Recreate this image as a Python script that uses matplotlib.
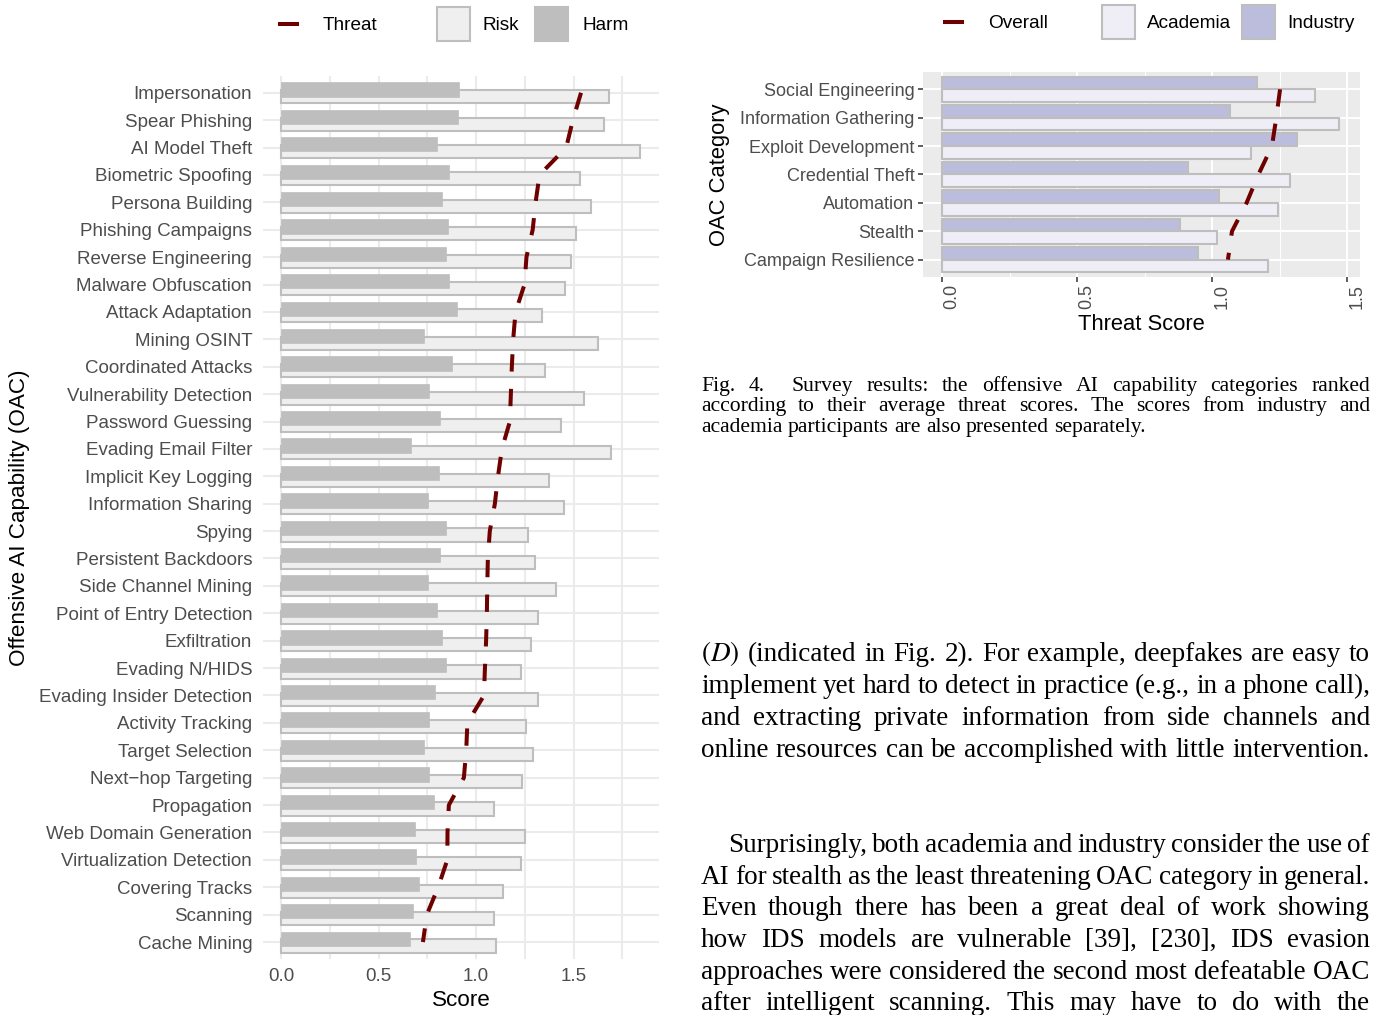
import matplotlib
matplotlib.use('Agg')
import matplotlib.pyplot as plt
from matplotlib.patches import Rectangle
from matplotlib.lines import Line2D
from matplotlib.transforms import ScaledTranslation
import numpy as np

plt.rcParams['font.family'] = 'Liberation Sans'
plt.rcParams['mathtext.fontset'] = 'stix'

# left chart: offensive AI capabilities
capabilities = ["Impersonation", "Spear Phishing", "AI Model Theft", "Biometric Spoofing",
                "Persona Building", "Phishing Campaigns", "Reverse Engineering",
                "Malware Obfuscation", "Attack Adaptation", "Mining OSINT",
                "Coordinated Attacks", "Vulnerability Detection", "Password Guessing",
                "Evading Email Filter", "Implicit Key Logging", "Information Sharing",
                "Spying", "Persistent Backdoors", "Side Channel Mining",
                "Point of Entry Detection", "Exfiltration", "Evading N/HIDS",
                "Evading Insider Detection", "Activity Tracking", "Target Selection",
                "Next\u2212hop Targeting", "Propagation", "Web Domain Generation",
                "Virtualization Detection", "Covering Tracks", "Scanning", "Cache Mining"]
harm = [0.914, 0.906, 0.797, 0.862, 0.826, 0.853, 0.845, 0.860, 0.901, 0.732, 0.874,
        0.758, 0.817, 0.668, 0.808, 0.753, 0.846, 0.817, 0.751, 0.801, 0.825, 0.846,
        0.789, 0.756, 0.733, 0.760, 0.784, 0.684, 0.692, 0.709, 0.675, 0.660]
risk = [1.679, 1.657, 1.840, 1.535, 1.587, 1.513, 1.486, 1.455, 1.337, 1.626, 1.354,
        1.554, 1.436, 1.692, 1.376, 1.451, 1.265, 1.303, 1.412, 1.318, 1.279, 1.229,
        1.316, 1.258, 1.292, 1.233, 1.094, 1.251, 1.231, 1.140, 1.094, 1.104]
threat = [1.538, 1.496, 1.462, 1.325, 1.305, 1.290, 1.258, 1.248, 1.202, 1.190, 1.183,
          1.178, 1.173, 1.132, 1.112, 1.096, 1.070, 1.060, 1.057, 1.055, 1.051, 1.045,
          1.040, 0.955, 0.949, 0.937, 0.860, 0.853, 0.852, 0.805, 0.747, 0.727]
score_ticks = [0.0, 0.5, 1.0, 1.5]

# right chart: OAC categories
oac_categories = ["Social Engineering", "Information Gathering", "Exploit Development",
                  "Credential Theft", "Automation", "Stealth", "Campaign Resilience"]
industry = [1.164, 1.066, 1.312, 0.910, 1.024, 0.882, 0.948]
academia = [1.380, 1.470, 1.143, 1.286, 1.242, 1.017, 1.206]
overall = [1.251, 1.237, 1.221, 1.171, 1.127, 1.073, 1.058]

caption = ["Fig. 4.  Survey results: the offensive AI capability categories ranked",
           "according to their average threat scores. The scores from industry and",
           "academia participants are also presented separately."]
para1 = ["$(D)$ (indicated in Fig. 2). For example, deepfakes are easy to",
         "implement yet hard to detect in practice (e.g., in a phone call),",
         "and extracting private information from side channels and",
         "online resources can be accomplished with little intervention."]
para2 = ["Surprisingly, both academia and industry consider the use of",
         "AI for stealth as the least threatening OAC category in general.",
         "Even though there has been a great deal of work showing",
         "how IDS models are vulnerable [39], [230], IDS evasion",
         "approaches were considered the second most defeatable OAC",
         "after intelligent scanning. This may have to do with the"]

W, H = 1375, 1015
fig = plt.figure(figsize=(W / 100, H / 100), dpi=100)
fig.patch.set_facecolor('white')


def fx(px):
    return px / W


def fy(py):
    return 1 - py / H


DARKRED = '#6E0000'
TICK = '#4D4D4D'
DASH = (0, (4.3, 4.3))

# ---- left chart
ax = fig.add_axes([fx(263.3), fy(958.5), (658.8 - 263.3) / W, (958.5 - 76.3) / H])
y = np.arange(len(capabilities))
ax.barh(y + 0.145, risk, height=0.48, color='#EFEFEF', edgecolor='#BEBEBE', linewidth=1.5, zorder=2)
ax.barh(y - 0.12, harm, height=0.52, color='#BEBEBE', edgecolor='#BEBEBE', linewidth=0.5, zorder=3)
ax.plot(threat, y, color=DARKRED, linewidth=2.9, linestyle=DASH, zorder=4)
ax.set_xlim(-0.092, 1.937)
ax.set_ylim(len(capabilities) - 0.4, -0.6)
ax.set_xticks(score_ticks)
ax.set_xticks([0.25, 0.75, 1.25, 1.75], minor=True)
ax.set_xticklabels([f'{v:.1f}' for v in score_ticks])
ax.set_yticks(y)
ax.set_yticklabels(capabilities)
ax.grid(which='both', axis='x', color='#EBEBEB', linewidth=1.5)
ax.grid(which='major', axis='y', color='#EBEBEB', linewidth=1.5)
ax.set_axisbelow(True)
ax.tick_params(which='both', length=0)
ax.tick_params(axis='y', labelsize=13.5, labelcolor=TICK, pad=8)
ax.tick_params(axis='x', labelsize=13.5, labelcolor=TICK, pad=7)
for s in ax.spines.values():
    s.set_visible(False)
fig.text(fx(461), fy(1001), 'Score', fontsize=16.2, ha='center', va='center')
fig.text(fx(20), fy(518), 'Offensive AI Capability (OAC)', fontsize=16.2,
         rotation=90, ha='center', va='center')

# ---- right chart
ax2 = fig.add_axes([fx(923.3), fy(276.7), (1360 - 923.3) / W, (276.7 - 72.3) / H])
ax2.set_facecolor('#EBEBEB')
y2 = np.arange(len(oac_categories))
ax2.barh(y2 - 0.225, industry, height=0.45, color='#BCBDDC', edgecolor='#BEBEBE', linewidth=1.5, zorder=2)
ax2.barh(y2 + 0.225, academia, height=0.45, color='#EFEDF5', edgecolor='#BEBEBE', linewidth=1.5, zorder=2)
ax2.plot(overall, y2, color=DARKRED, linewidth=2.9, linestyle=DASH, zorder=4)
ax2.set_xlim(-0.070, 1.547)
ax2.set_ylim(len(oac_categories) - 0.4, -0.6)
ax2.set_xticks(score_ticks)
ax2.set_xticks([0.25, 0.75, 1.25], minor=True)
ax2.set_xticklabels([f'{v:.1f}' for v in score_ticks])
ax2.set_yticks(y2)
ax2.set_yticklabels(oac_categories)
ax2.grid(which='major', color='white', linewidth=1.4)
ax2.grid(which='minor', axis='x', color='white', linewidth=0.7)
ax2.set_axisbelow(True)
ax2.tick_params(which='minor', length=0)
ax2.tick_params(which='major', length=3.3, width=1.1, color='#333333')
ax2.tick_params(axis='y', labelsize=13, labelcolor=TICK, pad=3)
ax2.tick_params(axis='x', labelsize=13, labelcolor=TICK, pad=2, labelrotation=90)
shift = ScaledTranslation(0.1, 0, fig.dpi_scale_trans)
for lab in ax2.get_xticklabels():
    lab.set_transform(lab.get_transform() + shift)
for s in ax2.spines.values():
    s.set_visible(False)
fig.text(fx(1141.5), fy(325), 'Threat Score', fontsize=15.8, ha='center', va='center')
fig.text(fx(720), fy(174.5), 'OAC Category', fontsize=15.8, rotation=90, ha='center', va='center')

# ---- legends (drawn in figure coordinates)
def legend_line(x0, x1, yc):
    fig.add_artist(Line2D([fx(x0), fx(x1)], [fy(yc), fy(yc)], color=DARKRED,
                          linewidth=2.9, transform=fig.transFigure))


def legend_box(x0, yc, fc):
    fig.add_artist(Rectangle((fx(x0), fy(yc + 17)), 33 / W, 34 / H, facecolor=fc,
                             edgecolor='#BEBEBE', linewidth=1.5, transform=fig.transFigure))


legend_line(280, 297, 24)
fig.text(fx(323), fy(26), 'Threat', fontsize=13.7, va='center')
legend_box(437, 24, '#EFEFEF')
fig.text(fx(483), fy(26), 'Risk', fontsize=13.7, va='center')
legend_box(535, 24, '#BEBEBE')
fig.text(fx(582), fy(26), 'Harm', fontsize=13.7, va='center')

legend_line(945, 962, 22)
fig.text(fx(988), fy(24), 'Overall', fontsize=13.7, va='center')
legend_box(1102, 22, '#EFEDF5')
fig.text(fx(1147), fy(24), 'Academia', fontsize=13.7, va='center')
legend_box(1242, 22, '#BCBDDC')
fig.text(fx(1287), fy(24), 'Industry', fontsize=13.7, va='center')

# ---- justified serif text
renderer = fig.canvas.get_renderer()


def text_line(line, x0, x1, base, size, justify=True):
    words = line.split(' ')
    arts, widths = [], []
    for w in words:
        t = fig.text(0, fy(base), w, fontsize=size, family='Liberation Serif',
                     va='baseline', ha='left')
        arts.append(t)
        widths.append(t.get_window_extent(renderer).width if w else 0)
    if justify and len(words) > 1:
        gap = (x1 - x0 - sum(widths)) / (len(words) - 1)
    else:
        gap = size * 100 / 72 * 0.25
    x = x0
    for t, wd in zip(arts, widths):
        t.set_x(fx(x))
        x += wd + gap


for i, line in enumerate(caption):
    text_line(line, 701, 1370, 391 + i * 20.5, 15.6, justify=i < len(caption) - 1)
for i, line in enumerate(para1):
    text_line(line, 701, 1370, 661 + i * 32, 19.5)
for i, line in enumerate(para2):
    text_line(line, 728 if i == 0 else 701, 1370, 852 + i * 31.7, 19.5)

fig.savefig('out.png', dpi=100)
